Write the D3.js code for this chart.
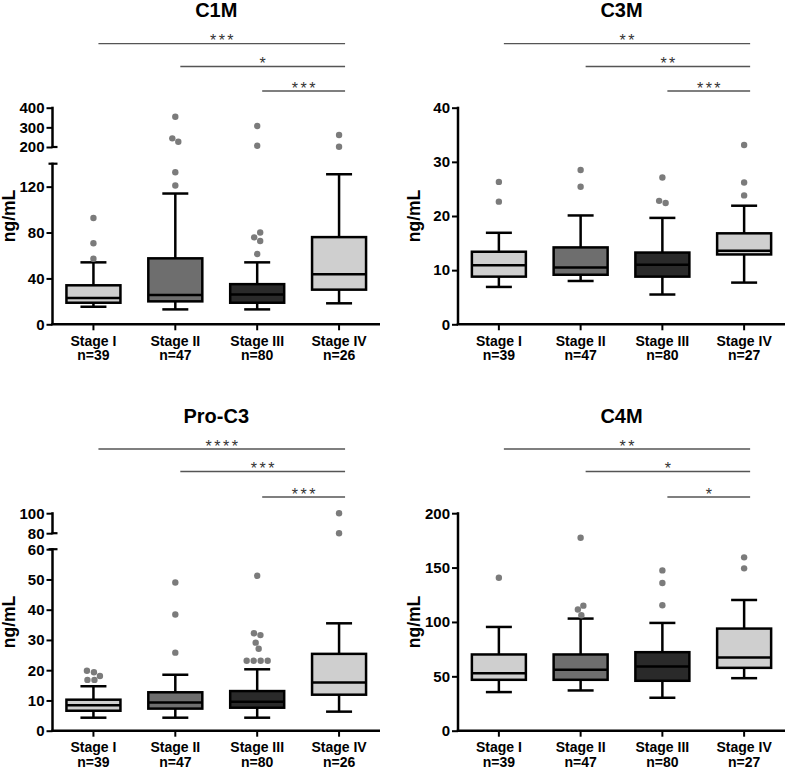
<!DOCTYPE html>
<html><head><meta charset="utf-8">
<script src="https://cdn.jsdelivr.net/npm/d3@7"></script>
<style>body{margin:0;background:#fff} svg{display:block}</style>
</head><body><svg id="c" width="787" height="769"></svg>
<script>
const stages = ["Stage I","Stage II","Stage III","Stage IV"];
const boxFills = ["#cfcfcf","#6e6e6e","#2a2a2a","#cfcfcf"];

// C1M  box = [whiskerLow, Q1, median, Q3, whiskerHigh]
const c1mN = [39,47,80,26];
const c1mBox = [[15.3,18.8,22.9,34,54],[13,20,25.5,57.5,114],[13,18.8,26,35,54],[18.3,30.2,43.6,76,130.8]];
const c1mOut = [[57.2,70.6,92.7],[121,132.5,227,244,354],[61.3,72.6,75.8,80,206.6,307],[201.5,261]];
const c1mTicksLow = [0,40,80,120];
const c1mTicksHigh = [200,300,400];
const c1mSig = [[0,3,"***"],[1,3,"*"],[2,3,"***"]];

// C3M
const c3mN = [39,47,80,27];
const c3mBox = [[6.9,8.8,10.9,13.4,16.9],[8.0,9.15,10.5,14.2,20.1],[5.5,8.8,11.0,13.25,19.65],[7.7,12.9,13.6,16.8,21.9]];
const c3mOut = [[22.65,26.3],[25.4,28.5],[22.4,22.8,27.1],[23.8,26.2,33.1]];
const c3mTicks = [0,10,20,30,40];
const c3mSig = [[0,3,"**"],[1,3,"**"],[2,3,"***"]];

// Pro-C3
const proN = [39,47,80,26];
const proBox = [[4.3,6.6,8.4,10.25,14.7],[4.3,7.3,9.3,12.7,18.5],[4.3,7.6,9.6,13.1,20.3],[6.3,11.9,15.9,25.4,35.5]];
const proOut = [[16.8,16.8,18.1,19.3,19.8],[25.8,38.4,49],[23.1,23.1,23.1,23.1,27.1,29.1,31.6,32.2,51.2],[80,100]];
const proTicksLow = [0,10,20,30,40,50,60];
const proTicksHigh = [80,100];
const proSig = [[0,3,"****"],[1,3,"***"],[2,3,"***"]];

// C4M
const c4mN = [39,47,80,27];
const c4mBox = [[35.5,46.8,52.9,70.1,95.4],[37,46.8,56,70.1,103.1],[30.3,45.9,59.1,72.2,99.1],[48.3,57.8,67.3,93.9,120.2]];
const c4mOut = [[140.7],[106.1,111.4,115,177.4],[115.3,135.8,147.4],[149.3,159.4]];
const c4mTicks = [0,50,100,150,200];
const c4mSig = [[0,3,"**"],[1,3,"*"],[2,3,"*"]];

const panels = [
  {title:"C1M", n:c1mN, box:c1mBox, out:c1mOut, sig:c1mSig, lowTicks:c1mTicksLow, lowMax:140, highTicks:c1mTicksHigh, highDomain:[200,400], col:0, row:0, upperH:39.3, gap:16.7},
  {title:"C3M", n:c3mN, box:c3mBox, out:c3mOut, sig:c3mSig, lowTicks:c3mTicks, lowMax:40, col:1, row:0},
  {title:"Pro-C3", n:proN, box:proBox, out:proOut, sig:proSig, lowTicks:proTicksLow, lowMax:60, highTicks:proTicksHigh, highDomain:[80,100], col:0, row:1, upperH:20, gap:16},
  {title:"C4M", n:c4mN, box:c4mBox, out:c4mOut, sig:c4mSig, lowTicks:c4mTicks, lowMax:200, col:1, row:1}
];

const FONT = "'Liberation Sans', Arial, Helvetica, sans-serif";
const svg = d3.select("#c");
const colX = [{x0:52.5,x1:380},{x0:458,x1:785}];
const rowY = [{top:107.7,bot:324.3,title:17,sig:[43.7,66.5,91]},{top:513.2,bot:730.7,title:423,sig:[449,471.5,497]}];
const R = 3.2;

function hline(g,x1,y1,x2,y2,w,c){
  g.append("line").attr("x1",x1).attr("y1",y1).attr("x2",x2).attr("y2",y2)
   .attr("stroke",c||"#000").attr("stroke-width",w);
}

function dodge(vals, y){
  const placed = [];
  vals.slice().sort((a,b)=>a-b).forEach(v=>{
    const py = y(v);
    const cands = [0];
    for (let k=1;k<30;k++){ cands.push(-k*0.5); cands.push(k*0.5); }
    for (const dx of cands){
      if (placed.every(p=>Math.hypot(p.dx-dx,p.py-py) >= 2*R+0.3)){ placed.push({dx,py,v}); break; }
    }
  });
  const used = new Array(placed.length).fill(false);
  for (let i=0;i<placed.length;i++){
    if (used[i]) continue;
    const cl=[i]; used[i]=true;
    for (let q=0;q<cl.length;q++){
      for (let j=0;j<placed.length;j++){
        if (!used[j] && Math.abs(placed[j].py-placed[cl[q]].py) < 2*R+0.3){ used[j]=true; cl.push(j); }
      }
    }
    const dxs = cl.map(k=>placed[k].dx);
    const mid = (d3.min(dxs)+d3.max(dxs))/2;
    cl.forEach(k=>placed[k].dx -= mid);
  }
  return placed;
}

panels.forEach(p=>{
  const cx = colX[p.col], ry = rowY[p.row];
  const g = svg.append("g");
  const x = d3.scaleBand().domain(stages).range([cx.x0, cx.x1]);
  const xc = s => x(s) + x.bandwidth()/2;
  const broken = !!p.highDomain;
  const lowTop = broken ? ry.top + p.upperH + p.gap : ry.top;
  const yLow = d3.scaleLinear().domain([0,p.lowMax]).range([ry.bot, lowTop]);
  const yHigh = broken ? d3.scaleLinear().domain(p.highDomain).range([ry.top+p.upperH, ry.top]) : null;
  const y = v => (broken && v > p.lowMax) ? yHigh(v) : yLow(v);

  g.append("text").attr("x",(cx.x0+cx.x1)/2).attr("y",ry.title).attr("text-anchor","middle")
   .attr("font-family",FONT).attr("font-weight","bold").attr("font-size",20).text(p.title);

  const yc = (ry.top+ry.bot)/2;
  g.append("text").attr("transform",`translate(${cx.x0-38},${yc}) rotate(-90)`).attr("text-anchor","middle")
   .attr("font-family",FONT).attr("font-weight","bold").attr("font-size",17.5).text("ng/mL");

  const styleAxis = a => {
    a.attr("font-family",FONT).attr("font-size",15).attr("font-weight","bold");
    a.select(".domain").remove();
    a.selectAll(".tick line").attr("stroke","#000").attr("stroke-width",2);
    a.selectAll(".tick text").attr("fill","#000");
  };
  const axL = g.append("g").attr("transform",`translate(${cx.x0},0)`)
    .call(d3.axisLeft(yLow).tickValues(p.lowTicks).tickSize(6).tickPadding(2).tickFormat(d3.format("d")));
  styleAxis(axL);
  hline(g, cx.x0, lowTop-1, cx.x0, ry.bot, 2.5);
  if (broken){
    const axH = g.append("g").attr("transform",`translate(${cx.x0},0)`)
      .call(d3.axisLeft(yHigh).tickValues(p.highTicks).tickSize(6).tickPadding(2).tickFormat(d3.format("d")));
    styleAxis(axH);
    hline(g, cx.x0, ry.top-1, cx.x0, ry.top+p.upperH+1, 2.5);
    hline(g, cx.x0-1, ry.top+p.upperH, cx.x0+5, ry.top+p.upperH, 2.2);
    hline(g, cx.x0-4, lowTop, cx.x0+5, lowTop, 2.2);
  }

  const axB = g.append("g").attr("transform",`translate(0,${ry.bot})`)
    .call(d3.axisBottom(x).tickSize(6).tickSizeOuter(0));
  axB.select(".domain").remove();
  axB.selectAll(".tick line").attr("stroke","#000").attr("stroke-width",2);
  axB.selectAll(".tick text").remove();
  axB.selectAll(".tick").each(function(d,i){
    const t = d3.select(this);
    t.append("text").attr("y",21.5).attr("text-anchor","middle").attr("font-family",FONT)
      .attr("font-weight","bold").attr("font-size",14).attr("fill","#000").text(d);
    t.append("text").attr("y",36).attr("text-anchor","middle").attr("font-family",FONT)
      .attr("font-weight","bold").attr("font-size",14).attr("fill","#000").text("n=" + p.n[i]);
  });
  hline(g, cx.x0-1.25, ry.bot, cx.x1, ry.bot, 2.5);

  const bw = 54, cw = 26;
  stages.forEach((s,i)=>{
    const [lo,q1,md,q3,hi] = p.box[i];
    const c = xc(s);
    hline(g, c, y(lo), c, y(hi), 2.5);
    hline(g, c-cw/2, y(lo), c+cw/2, y(lo), 2.5);
    hline(g, c-cw/2, y(hi), c+cw/2, y(hi), 2.5);
    g.append("rect").attr("x",c-bw/2).attr("y",y(q3)).attr("width",bw).attr("height",y(q1)-y(q3))
      .attr("fill",boxFills[i]).attr("stroke","#000").attr("stroke-width",2.5);
    hline(g, c-bw/2, y(md), c+bw/2, y(md), 2.5);
    dodge(p.out[i], y).forEach(o=>{
      g.append("circle").attr("cx",c+o.dx).attr("cy",o.py).attr("r",R).attr("fill","#7b7b7b");
    });
  });

  p.sig.forEach((sg,k)=>{
    const [a,b,lab] = sg;
    const ly = ry.sig[k];
    const xs = xc(stages[a])+5, xe = xc(stages[b])+6;
    hline(g, xs, ly, xe, ly, 1.3, "#555");
    g.append("text").attr("x",(xs+xe)/2 + 1.25).attr("y",ly+2.5).attr("text-anchor","middle")
      .attr("font-family",FONT).attr("font-size",16).attr("letter-spacing",2.5).attr("fill","#333").text(lab);
  });
});
</script>
</body></html>
